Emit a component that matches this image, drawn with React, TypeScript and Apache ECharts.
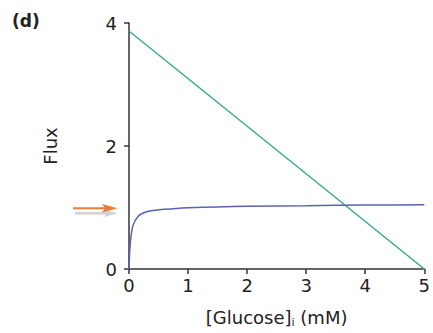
import React, { useEffect, useRef } from "react";
import * as echarts from "echarts";

const xTicks = [0, 1, 2, 3, 4, 5];
const yTicks = [0, 2, 4];
const greenLine: [number, number][] = [
  [0, 3.87],
  [5, 0],
];
const blueCurve: [number, number][] = [
  [0, 0],
  [0.01, 0.25],
  [0.03, 0.5],
  [0.06, 0.68],
  [0.1, 0.78],
  [0.15, 0.85],
  [0.2, 0.89],
  [0.3, 0.93],
  [0.45, 0.955],
  [0.6, 0.97],
  [0.8, 0.985],
  [1, 0.995],
  [1.5, 1.01],
  [2, 1.02],
  [3, 1.03],
  [4, 1.04],
  [5, 1.045],
];

export default function App() {
  const ref = useRef<HTMLDivElement>(null);
  useEffect(() => {
    if (!ref.current) return;
    const chart = echarts.init(ref.current, null, { renderer: "svg" });
    const font = "DejaVu Sans, sans-serif";
    const ink = "#222";
    chart.setOption({
      animation: false,
      textStyle: { fontFamily: font },
      grid: { left: 129, right: 7, top: 23, bottom: 64, containLabel: false },
      xAxis: {
        type: "value",
        min: xTicks[0],
        max: xTicks[xTicks.length - 1],
        interval: 1,
        name: "{a|[Glucose]}{s|i}{a| (mM)}",
        nameLocation: "middle",
        nameGap: 38,
        nameTextStyle: {
          rich: {
            a: { fontSize: 18, color: ink, fontFamily: font },
            s: { fontSize: 11, color: ink, fontFamily: font, verticalAlign: "bottom", padding: [10, 0, 0, 0] },
          },
        },
        axisLine: { lineStyle: { color: "#333", width: 1.5 } },
        axisTick: { show: true, inside: false, length: 5, lineStyle: { color: "#333", width: 1.5 } },
        axisLabel: { fontSize: 18, color: ink, margin: 7, fontFamily: font },
        splitLine: { show: false },
      },
      yAxis: {
        type: "value",
        min: yTicks[0],
        max: yTicks[yTicks.length - 1],
        interval: 2,
        name: "Flux",
        nameLocation: "middle",
        nameGap: 70,
        nameRotate: 90,
        nameTextStyle: { fontSize: 18, color: ink, fontFamily: font },
        axisLine: { show: true, lineStyle: { color: "#333", width: 1.5 } },
        axisTick: { show: true, inside: false, length: 5, lineStyle: { color: "#333", width: 1.5 } },
        axisLabel: { fontSize: 18, color: ink, margin: 12, fontFamily: font },
        splitLine: { show: false },
      },
      graphic: [
        {
          type: "text",
          left: 12,
          top: 12,
          style: { text: "(d)", fontSize: 17, fontWeight: "bold", fill: ink, fontFamily: font },
        },
        {
          type: "line",
          shape: { x1: 75, y1: 213.3, x2: 110, y2: 213.3 },
          style: { stroke: "#d2d2d2", lineWidth: 2.5 },
        },
        {
          type: "polygon",
          shape: { points: [[105, 209.5], [117, 213.3], [105, 217]] },
          style: { fill: "#d2d2d2" },
        },
        {
          type: "line",
          shape: { x1: 73, y1: 208.3, x2: 106, y2: 208.3 },
          style: { stroke: "#f07a3a", lineWidth: 2 },
        },
        {
          type: "polygon",
          shape: { points: [[102, 204], [117.5, 208.3], [102, 212.6], [105, 208.3]] },
          style: { fill: "#f07a3a" },
        },
      ],
      series: [
        {
          type: "line",
          data: greenLine,
          showSymbol: false,
          lineStyle: { color: "#3aaa8a", width: 1.5 },
        },
        {
          type: "line",
          data: blueCurve,
          showSymbol: false,
          smooth: 0.3,
          lineStyle: { color: "#5a62b4", width: 1.5 },
        },
      ],
    });
    return () => chart.dispose();
  }, []);
  return (
    <div
      ref={ref}
      style={{ position: "absolute", left: 0, top: 0, width: 433, height: 333 }}
    />
  );
}
